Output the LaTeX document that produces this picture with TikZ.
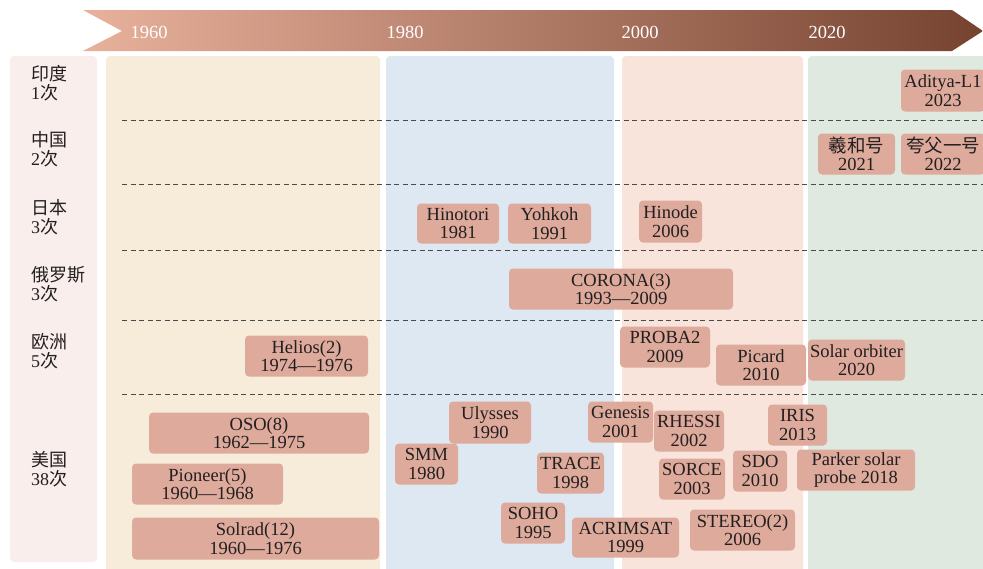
\documentclass[tikz,border=0pt]{standalone}
\usepackage{fontspec}
\setmainfont{Liberation Serif}
\newfontfamily\cjk{Noto Sans CJK SC}
\definecolor{leftcol}{HTML}{F9EEEB}
\definecolor{eraA}{HTML}{F7EBD9}
\definecolor{eraB}{HTML}{DDE8F2}
\definecolor{eraC}{HTML}{F9E4DC}
\definecolor{eraD}{HTML}{DFE9DF}
\definecolor{boxfill}{HTML}{DDAA9B}
\definecolor{txt}{HTML}{231F20}
\definecolor{dashc}{HTML}{4A4A4A}
\definecolor{arrL}{HTML}{E8B19C}
\definecolor{arrM}{HTML}{B9643F}
\definecolor{arrR}{HTML}{764330}
\newcommand\mbx[6]{%
  \pgfmathsetmacro\mbxw{#4-#2}\pgfmathsetmacro\mbxh{#5-#3}%
  \node[mbox,minimum width=\mbxw pt,minimum height=\mbxh pt] (#1) at ({(#2+#4)/2},{(#3+#5)/2+0.5}) {#6};}
\begin{document}
\begin{tikzpicture}[x=1pt,y=-1pt,
  mbox/.style={fill=boxfill,rounded corners=4pt,inner sep=0pt,align=center,text=txt,
    font=\fontsize{18.5}{18.6}\selectfont},
  era/.style={rounded corners=4pt},
  yearlab/.style={text=white,font=\fontsize{18.5}{20}\selectfont,inner sep=0pt},
  country/.style={anchor=west,align=left,text=txt,inner sep=0pt,font=\fontsize{18}{18.5}\selectfont},
  sep/.style={dashc,line width=1pt,dash pattern=on 5pt off 3.5pt}]
\useasboundingbox (0,0) rectangle (983,568);
\fill[white] (0,0) rectangle (983,568);
% timeline arrow
\shade[left color=arrL,middle color=arrM,right color=arrR]
  (83,10) -- (952,10) -- (983,31) -- (952,51) -- (83,51) -- (122,31) -- cycle;
\node[yearlab] (y1960) at (149,32) {1960};
\node[yearlab] (y1980) at (405,32) {1980};
\node[yearlab] (y2000) at (640,32) {2000};
\node[yearlab] (y2020) at (827,32) {2020};
% backgrounds
\fill[leftcol,era] (10,56) rectangle (97,562);
\fill[eraA,era] (106,56) rectangle (380,575);
\fill[eraB,era] (386,56) rectangle (614,575);
\fill[eraC,era] (622,56) rectangle (803,575);
\fill[eraD,era] (808,56) rectangle (990,575);
% separators
\foreach \yy in {120,184,250.5,320.5,394} \draw[sep] (122,\yy) -- (983,\yy);
% countries
\node[country] (in) at (31,83) {{\cjk 印度}\\1{\cjk 次}};
\node[country] (cn) at (31,149) {{\cjk 中国}\\2{\cjk 次}};
\node[country] (jp) at (31,217) {{\cjk 日本}\\3{\cjk 次}};
\node[country] (ru) at (31,284) {{\cjk 俄罗斯}\\3{\cjk 次}};
\node[country] (eu) at (31,351) {{\cjk 欧洲}\\5{\cjk 次}};
\node[country] (us) at (31,469) {{\cjk 美国}\\38{\cjk 次}};
% missions
\mbx{aditya}{901}{69}{985}{111}{Aditya-L1\\2023}
\mbx{xihe}{818}{133}{895}{174}{{\cjk 羲和号}\\2021}
\mbx{kuafu}{901}{133}{985}{174}{{\cjk 夸父一号}\\2022}
\mbx{hinotori}{417}{203}{499}{243}{Hinotori\\1981}
\mbx{yohkoh}{508}{203}{591}{243}{Yohkoh\\1991}
\mbx{hinode}{639}{200}{702}{242}{Hinode\\2006}
\mbx{corona}{509}{268}{733}{309}{CORONA(3)\\1993—2009}
\mbx{proba}{620}{326}{710}{367}{PROBA2\\2009}
\mbx{picard}{716}{344}{806}{385}{Picard\\2010}
\mbx{solarorb}{808}{339}{905}{380}{Solar orbiter\\2020}
\mbx{helios}{245}{335}{368}{376}{Helios(2)\\1974—1976}
\mbx{oso}{149}{412}{369}{453}{OSO(8)\\1962—1975}
\mbx{pioneer}{132}{463}{283}{504}{Pioneer(5)\\1960—1968}
\mbx{solrad}{132}{517}{379}{559}{Solrad(12)\\1960—1976}
\mbx{smm}{395}{443}{458}{484}{SMM\\1980}
\mbx{ulysses}{449}{401}{531}{443}{Ulysses\\1990}
\mbx{soho}{501}{502}{565}{543}{SOHO\\1995}
\mbx{trace}{537}{452}{604}{493}{TRACE\\1998}
\mbx{genesis}{588}{401}{653}{442}{Genesis\\2001}
\mbx{rhessi}{654}{410}{724}{451}{RHESSI\\2002}
\mbx{sorce}{659}{458}{725}{499}{SORCE\\2003}
\mbx{sdo}{733}{450}{787}{491}{SDO\\2010}
\mbx{iris}{768}{404}{827}{445}{IRIS\\2013}
\mbx{parker}{797}{449}{915}{490}{Parker solar\\probe 2018}
\mbx{acrimsat}{572}{517}{679}{557}{ACRIMSAT\\1999}
\mbx{stereo}{690}{509}{795}{550}{STEREO(2)\\2006}
\end{tikzpicture}
\end{document}
